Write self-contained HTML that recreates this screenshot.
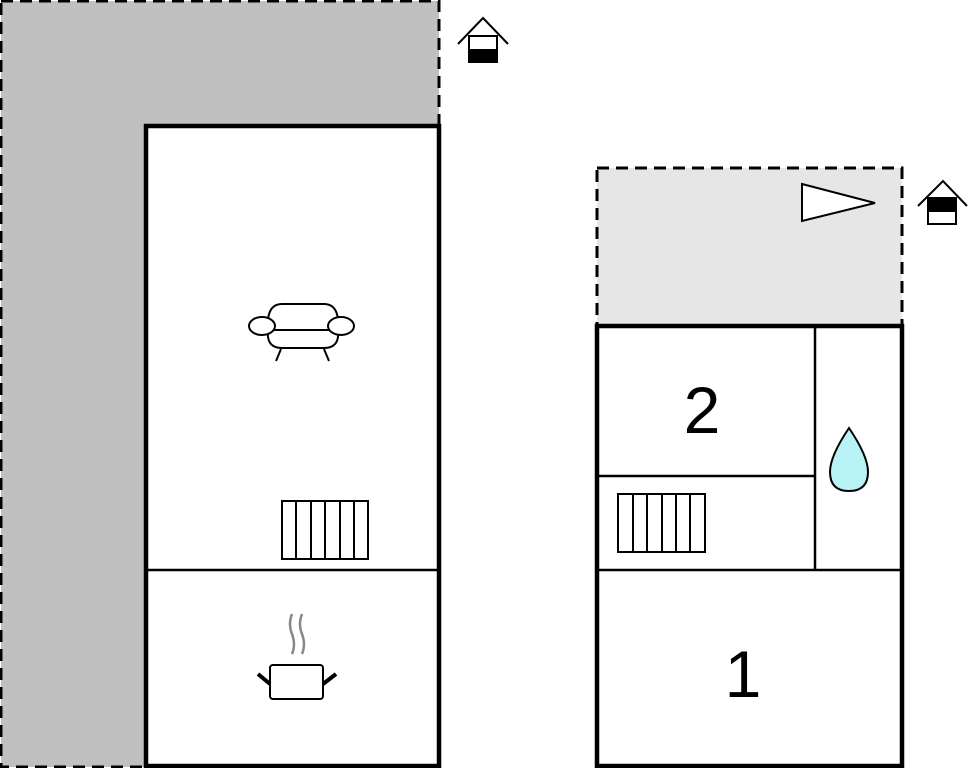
<!DOCTYPE html>
<html><head><style>html,body{margin:0;padding:0;background:#fff}svg{display:block}</style></head>
<body>
<svg width="968" height="768" viewBox="0 0 968 768" xmlns="http://www.w3.org/2000/svg">
<path d="M1,1 H439 V126 H146 V767 H1 Z" fill="#c0c0c0" stroke="#000" stroke-width="3" stroke-dasharray="12,7"/>
<rect x="146" y="126" width="293" height="640" fill="#fff" stroke="#000" stroke-width="4.5"/>
<line x1="146" y1="570" x2="439" y2="570" stroke="#000" stroke-width="2.5"/>
<g fill="#fff" stroke="#000" stroke-width="2">
<path d="M268,330 Q266,304 282,304 H324 Q340,304 338,330 Q340,348 324,348 H282 Q266,348 268,330 Z"/>
<line x1="274" y1="330" x2="332" y2="330"/>
<ellipse cx="262" cy="326" rx="13" ry="9"/>
<ellipse cx="341" cy="326" rx="13" ry="9"/>
<line x1="281" y1="349" x2="276" y2="361"/>
<line x1="324" y1="349" x2="329" y2="361"/>
</g>
<g fill="none" stroke="#000" stroke-width="2">
<rect x="282" y="501" width="86" height="58"/>
<line x1="296" y1="501" x2="296" y2="559"/><line x1="311" y1="501" x2="311" y2="559"/>
<line x1="325" y1="501" x2="325" y2="559"/><line x1="340" y1="501" x2="340" y2="559"/>
<line x1="354" y1="501" x2="354" y2="559"/>
</g>
<g stroke="#888" stroke-width="2.5" fill="none">
<path d="M292,614 Q288,624 292,634 Q296,644 292,654"/>
<path d="M302,614 Q298,624 302,634 Q306,644 302,654"/>
</g>
<rect x="270" y="665" width="53" height="34" rx="3" fill="#fff" stroke="#000" stroke-width="2"/>
<line x1="258" y1="674" x2="270" y2="684" stroke="#000" stroke-width="4"/>
<line x1="323" y1="684" x2="336" y2="674" stroke="#000" stroke-width="4"/>
<g stroke="#000" stroke-width="2" fill="none">
<polyline points="458,44 483,18 508,44"/>
<rect x="469" y="36" width="28" height="26" fill="#fff"/>
<rect x="469" y="50" width="28" height="12" fill="#000"/>
</g>
<rect x="597" y="168" width="305" height="158" fill="#e6e6e6" stroke="#000" stroke-width="3" stroke-dasharray="12,7"/>
<polygon points="802,184 875,203 802,221" fill="#fff" stroke="#000" stroke-width="2"/>
<g stroke="#000" stroke-width="2" fill="none">
<polyline points="918,206 943,181 967,206"/>
<rect x="928" y="198" width="28" height="26" fill="#fff"/>
<rect x="928" y="198" width="28" height="13" fill="#000"/>
</g>
<rect x="597" y="326" width="305" height="440" fill="#fff" stroke="#000" stroke-width="4.5"/>
<line x1="815" y1="326" x2="815" y2="570" stroke="#000" stroke-width="2.5"/>
<line x1="597" y1="476" x2="815" y2="476" stroke="#000" stroke-width="2.5"/>
<line x1="597" y1="570" x2="902" y2="570" stroke="#000" stroke-width="2.5"/>
<g fill="none" stroke="#000" stroke-width="2">
<rect x="618" y="494" width="87" height="58"/>
<line x1="633" y1="494" x2="633" y2="552"/><line x1="647" y1="494" x2="647" y2="552"/>
<line x1="662" y1="494" x2="662" y2="552"/><line x1="676" y1="494" x2="676" y2="552"/>
<line x1="690" y1="494" x2="690" y2="552"/>
</g>
<path d="M849,428 Q830,456 830,472 Q830,491 849,491 Q868,491 868,472 Q868,456 849,428 Z" fill="#b9f2f4" stroke="#000" stroke-width="2"/>
<text x="702" y="433" font-family="Liberation Sans, sans-serif" font-size="66" text-anchor="middle" fill="#000">2</text>
<text x="743" y="697" font-family="Liberation Sans, sans-serif" font-size="66" text-anchor="middle" fill="#000">1</text>
</svg>
</body></html>
